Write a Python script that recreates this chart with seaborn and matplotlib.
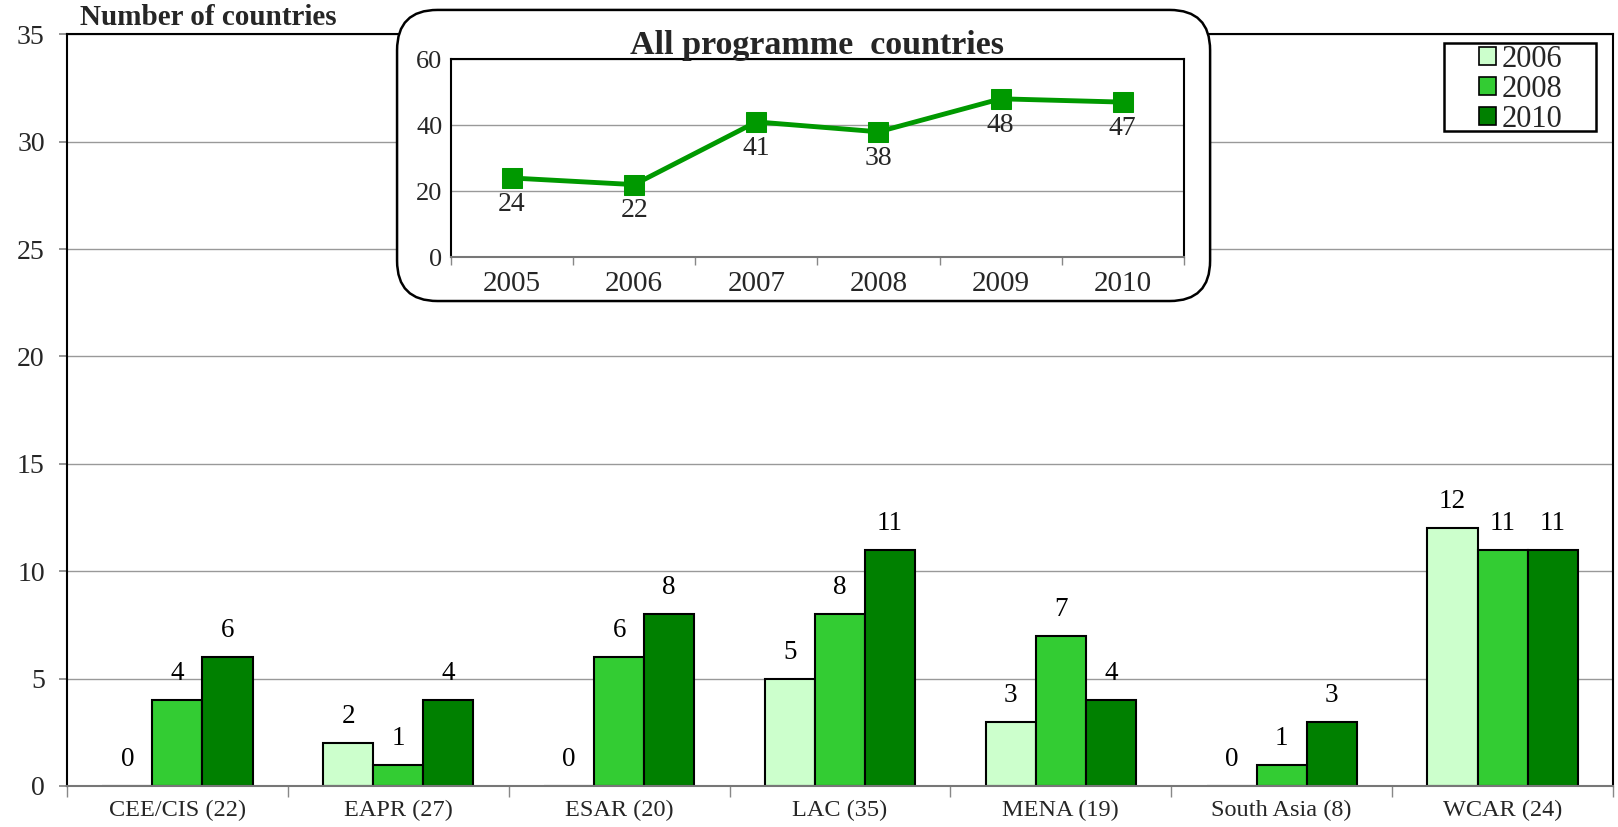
import matplotlib
matplotlib.use("Agg")
import matplotlib.pyplot as plt
from matplotlib.patches import FancyBboxPatch, Patch, Rectangle
import seaborn as sns
import pandas as pd
import numpy as np

# ---- data ----
regions = ["CEE/CIS (22)", "EAPR (27)", "ESAR (20)", "LAC (35)", "MENA (19)", "South Asia (8)", "WCAR (24)"]
years = ["2006", "2008", "2010"]
v2006 = [0, 2, 0, 5, 3, 0, 12]
v2008 = [4, 1, 6, 8, 7, 1, 11]
v2010 = [6, 4, 8, 11, 4, 3, 11]
colors = ["#CCFFCC", "#33CC33", "#008000"]

inset_years = ["2005", "2006", "2007", "2008", "2009", "2010"]
inset_vals = [24, 22, 41, 38, 48, 47]

sns.set_theme(style="white")
plt.rcParams["font.family"] = ["Liberation Serif", "DejaVu Serif"]

rows = []
for yr, vals in zip(years, [v2006, v2008, v2010]):
    for r, v in zip(regions, vals):
        rows.append({"region": r, "year": yr, "value": v})
df = pd.DataFrame(rows)

fig = plt.figure(figsize=(16.18, 8.27), dpi=100)
ax = fig.add_axes([0.0414, 0.0496, 0.9555, 0.909])

sns.barplot(data=df, x="region", y="value", hue="year", palette=colors,
            order=regions, hue_order=years, width=0.68, ax=ax,
            edgecolor="black", linewidth=1.5, saturation=1)

for cont in ax.containers:
    ax.bar_label(cont, fmt="%d", padding=10, fontsize=19.5, color="black")

ax.set_ylim(0, 35)
ax.set_xlim(-0.5, 6.5)
ax.set_yticks(np.arange(0, 36, 5))
ax.yaxis.grid(True, color="#999999", linewidth=1)
ax.set_axisbelow(True)
ax.set_xlabel("")
ax.set_ylabel("")
ax.tick_params(axis="y", labelsize=20, length=6, color="#888888", left=True, pad=10)
ax.tick_params(axis="x", which="major", length=0, labelsize=17.5, pad=10)
ax.set_xticks(np.arange(-0.5, 7, 1), minor=True)
ax.tick_params(axis="x", which="minor", length=8, color="#888888", bottom=True)
for s in ["left", "top", "right"]:
    ax.spines[s].set_color("black")
    ax.spines[s].set_linewidth(1.5)
ax.spines["bottom"].set_color("#777777")
ax.spines["bottom"].set_linewidth(1.5)

fig.text(0.0494, 0.979, "Number of countries", fontsize=21, fontweight="bold", va="center", ha="left")

# legend with a hand-drawn frame (wide horizontal padding, tight vertical)
handles = [Patch(facecolor=c, edgecolor="black", linewidth=1.2) for c in colors]
leg = ax.legend(handles, years, loc="center", bbox_to_anchor=(0.9405, 0.9265),
                borderaxespad=0, fontsize=22, frameon=False,
                handlelength=0.55, handleheight=0.55, handletextpad=0.2,
                labelspacing=0.03, borderpad=0)
ax.add_patch(Rectangle((0.891, 0.871), 0.0977, 0.1167, transform=ax.transAxes,
                       facecolor="none", edgecolor="black", linewidth=1.8, zorder=4,
                       clip_on=False))

# ---- inset ----
box = FancyBboxPatch((0.2454, 0.636), 0.5025, 0.352, boxstyle="round,pad=0,rounding_size=0.025",
                     transform=fig.transFigure, facecolor="white", edgecolor="black",
                     linewidth=1.8, zorder=5, mutation_aspect=1.95)
fig.patches.append(box)

ax2 = fig.add_axes([0.2787, 0.689, 0.453, 0.2394])
ax2.set_zorder(6)
idf = pd.DataFrame({"x": np.arange(len(inset_years)), "val": inset_vals})
sns.lineplot(data=idf, x="x", y="val", ax=ax2, color="#009900", linewidth=3.5,
             marker="s", markersize=14, markeredgecolor="#009900")
for xi, v in zip(idf["x"], inset_vals):
    ax2.annotate(str(v), (xi, v), xytext=(0, -10), textcoords="offset points",
                 ha="center", va="top", fontsize=20)
ax2.set_ylim(0, 60)
ax2.set_xlim(-0.5, 5.5)
ax2.set_yticks([0, 20, 40, 60])
ax2.set_xticks(np.arange(len(inset_years)))
ax2.set_xticklabels(inset_years)
ax2.set_xticks(np.arange(-0.5, 6, 1), minor=True)
ax2.tick_params(axis="x", which="major", length=0, labelsize=21, pad=10)
ax2.tick_params(axis="x", which="minor", length=6, color="#888888", bottom=True)
ax2.tick_params(axis="y", labelsize=19, length=0, pad=6)
ax2.yaxis.grid(True, color="#999999", linewidth=1)
ax2.set_axisbelow(True)
ax2.set_xlabel("")
ax2.set_ylabel("")
for s in ["left", "top", "right"]:
    ax2.spines[s].set_color("black")
    ax2.spines[s].set_linewidth(1.5)
ax2.spines["bottom"].set_color("#777777")
ax2.spines["bottom"].set_linewidth(1.5)
ax2.set_title("All programme  countries", fontsize=24.5, fontweight="bold", pad=4)

fig.savefig("out.png", dpi=100)
